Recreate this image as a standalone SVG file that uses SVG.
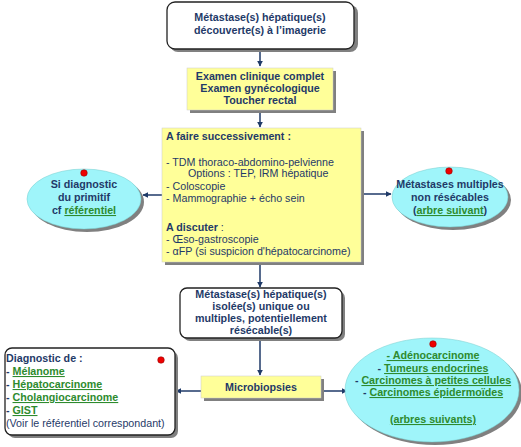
<svg xmlns="http://www.w3.org/2000/svg" width="521" height="447" viewBox="0 0 521 447">
<style>
text{font-family:"Liberation Sans",Arial,sans-serif;font-size:10.7px;fill:#1F3A68}
.b{font-weight:bold}
.c{text-anchor:middle}
.g{fill:#2E8B2E;text-decoration:underline}
.white{fill:#fff;stroke:#222;stroke-width:1.3}
.yel{fill:#FFFF99;stroke:#ccc;stroke-width:0.5}
.cy{fill:#9FF5FA;stroke:#7cc;stroke-width:0.5}
.sh{fill:#808080}
.dot{fill:#E00;stroke:#800;stroke-width:0.5}
.ln{stroke:#1F3A68;stroke-width:1.5;fill:none}
</style>
<defs>
<marker id="ah" viewBox="0 0 10 10" refX="9" refY="5" markerWidth="6" markerHeight="6" orient="auto" markerUnits="userSpaceOnUse">
<path d="M0,0L10,5L0,10z" fill="#1F3A68"/>
</marker>
</defs>
<g id="connectors">
<line class="ln" x1="260" y1="50" x2="260" y2="66" marker-end="url(#ah)"/>
<line class="ln" x1="260" y1="111" x2="260" y2="127" marker-end="url(#ah)"/>
<line class="ln" x1="162" y1="195" x2="143" y2="195" marker-end="url(#ah)"/>
<line class="ln" x1="361" y1="194" x2="391" y2="194" marker-end="url(#ah)"/>
<line class="ln" x1="260" y1="263" x2="260" y2="287" marker-end="url(#ah)"/>
<line class="ln" x1="260" y1="339" x2="260" y2="375" marker-end="url(#ah)"/>
<line class="ln" x1="201" y1="391" x2="176" y2="391" marker-end="url(#ah)"/>
<line class="ln" x1="321" y1="391" x2="347" y2="391" marker-end="url(#ah)"/>
</g>
<g id="n1">
<rect class="sh" x="170" y="5" width="188" height="47" rx="8"/>
<rect class="white" x="167" y="2" width="187" height="47" rx="8"/>
<text class="b c" x="260" y="21">Métastase(s) hépatique(s)</text>
<text class="b c" x="260" y="34">découverte(s) à l’imagerie</text>
</g>
<g id="n2">
<rect class="sh" x="190" y="71" width="146" height="42"/>
<rect class="yel" x="187" y="68" width="146" height="42"/>
<text class="b c" x="260" y="80">Examen clinique complet</text>
<text class="b c" x="260" y="92">Examen gynécologique</text>
<text class="b c" x="260" y="104">Toucher rectal</text>
</g>
<g id="n3">
<rect class="sh" x="165" y="131" width="199" height="134"/>
<rect class="yel" x="162" y="128" width="199" height="134"/>
<text class="b" x="166" y="140">A faire successivement :</text>
<text x="166" y="166">- TDM thoraco-abdomino-pelvienne</text>
<text x="188" y="177">Options : TEP, IRM hépatique</text>
<text x="166" y="190">- Coloscopie</text>
<text x="166" y="202">- Mammographie + écho sein</text>
<text x="166" y="231"><tspan class="b">A discuter</tspan> :</text>
<text x="166" y="243">- Œso-gastroscopie</text>
<text x="166" y="255">- αFP (si suspicion d'hépatocarcinome)</text>
</g>
<g id="n4">
<ellipse class="sh" cx="87" cy="202" rx="57" ry="30"/>
<ellipse class="cy" cx="84" cy="199" rx="57" ry="30"/>
<circle class="dot" cx="84" cy="173" r="3.3"/>
<text class="b c" x="84" y="188">Si diagnostic</text>
<text class="b c" x="84" y="201">du primitif</text>
<text class="b c" x="84" y="214">cf <tspan class="g">référentiel</tspan></text>
</g>
<g id="n5">
<ellipse class="sh" cx="453" cy="200" rx="58" ry="30"/>
<ellipse class="cy" cx="450" cy="197" rx="58" ry="30"/>
<circle class="dot" cx="449" cy="171" r="3.3"/>
<text class="b c" x="450" y="188">Métastases multiples</text>
<text class="b c" x="450" y="201">non résécables</text>
<text class="b c" x="450" y="214">(<tspan class="g">arbre suivant</tspan>)</text>
</g>
<g id="n6">
<rect class="sh" x="183" y="291" width="162" height="50" rx="7"/>
<rect class="white" x="180" y="288" width="162" height="50" rx="7"/>
<text class="b c" x="261" y="298">Métastase(s) hépatique(s)</text>
<text class="b c" x="261" y="310">isolée(s) unique ou</text>
<text class="b c" x="261" y="322">multiples, potentiellement</text>
<text class="b c" x="261" y="334">résécable(s)</text>
</g>
<g id="n7">
<rect class="sh" x="204" y="379" width="120" height="22"/>
<rect class="yel" x="201" y="376" width="120" height="22"/>
<text class="b c" x="261" y="391">Microbiopsies</text>
</g>
<g id="n8">
<rect class="sh" x="8" y="351" width="170" height="87" rx="7"/>
<rect class="white" x="5" y="348" width="170" height="87" rx="7"/>
<circle class="dot" cx="161" cy="360" r="3.3"/>
<text class="b" x="6" y="362">Diagnostic de :</text>
<text class="b" x="6" y="375">- <tspan class="g">Mélanome</tspan></text>
<text class="b" x="6" y="388">- <tspan class="g">Hépatocarcinome</tspan></text>
<text class="b" x="6" y="401">- <tspan class="g">Cholangiocarcinome</tspan></text>
<text class="b" x="6" y="414">- <tspan class="g">GIST</tspan></text>
<text x="6" y="427">(Voir le référentiel correspondant)</text>
</g>
<g id="n9">
<ellipse class="sh" cx="435" cy="393" rx="87" ry="52"/>
<ellipse class="cy" cx="432" cy="390" rx="87" ry="52"/>
<circle class="dot" cx="433" cy="344" r="3.3"/>
<text class="b c g" x="433" y="359">- Adénocarcinome</text>
<text class="b c" x="433" y="372">- <tspan class="g">Tumeurs endocrines</tspan></text>
<text class="b c" x="433" y="384">- <tspan class="g">Carcinomes à petites cellules</tspan></text>
<text class="b c" x="433" y="396">- <tspan class="g">Carcinomes épidermoïdes</tspan></text>
<text class="b c g" x="433" y="423">(arbres suivants)</text>
</g>
</svg>
